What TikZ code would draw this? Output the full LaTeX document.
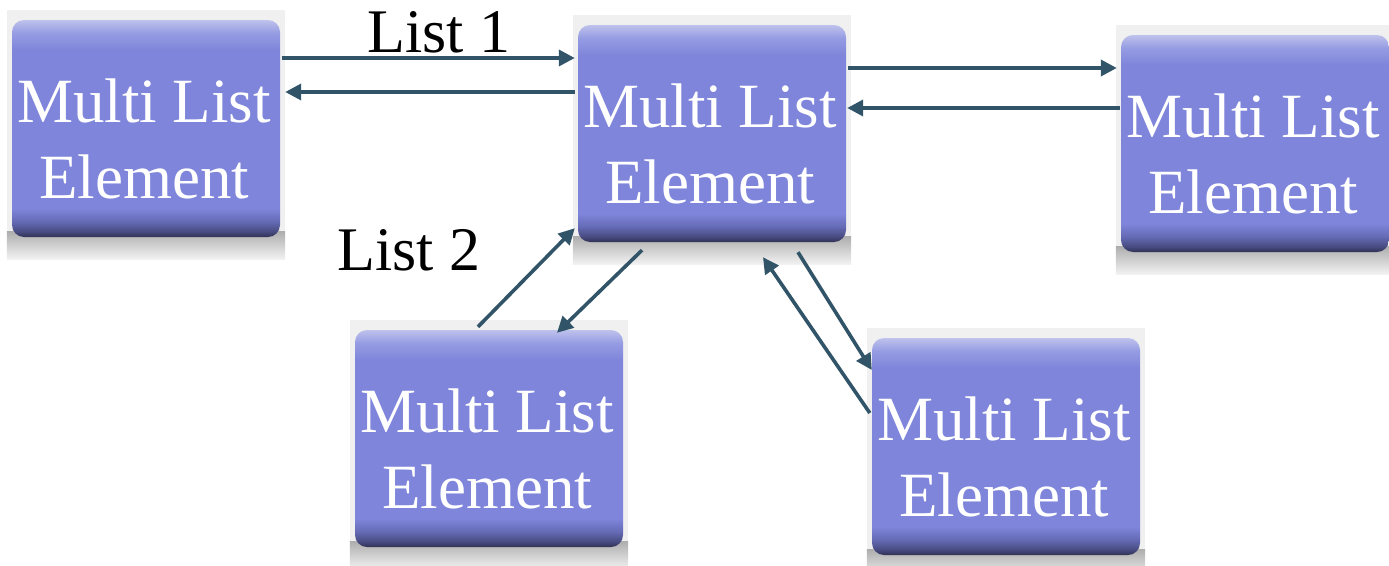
\documentclass[tikz,border=0pt]{standalone}
\usepackage{fontspec}
\setmainfont{Liberation Serif}
\usetikzlibrary{arrows.meta,backgrounds,calc}

\definecolor{boxmain}{RGB}{126,133,218}
\definecolor{boxtop}{RGB}{190,194,236}
\definecolor{boxlight}{RGB}{150,156,226}
\definecolor{boxdark}{RGB}{48,50,84}
\definecolor{boxmid}{RGB}{72,76,130}
\definecolor{boxdeep}{RGB}{100,106,180}
\definecolor{linkcol}{RGB}{50,84,104}

% vertical gradient of an element box (0bp = bottom)
\pgfdeclareverticalshading{mlbox}{100bp}{%
  color(0bp)=(boxdark); color(25bp)=(boxdark); color(26.3bp)=(boxmid);
  color(28.5bp)=(boxdeep); color(31.5bp)=(boxmain); color(68bp)=(boxmain);
  color(72bp)=(boxlight); color(75bp)=(boxtop); color(100bp)=(boxtop)}

% soft grey shadow below each box
\pgfdeclareverticalshading{mlshadow}{100bp}{%
  color(0bp)=(black!5); color(25bp)=(black!5); color(75bp)=(black!32);
  color(100bp)=(black!32)}

\tikzset{
  elem/.style={rectangle, rounded corners=12pt, minimum width=268pt,
    minimum height=217pt, inner sep=0pt, shading=mlbox},
  elemtext/.style={text=white, align=center, inner sep=0pt,
    font=\fontsize{63}{76}\selectfont},
  listlabel/.style={text=black, inner sep=0pt, anchor=base,
    font=\fontsize{62}{76}\selectfont},
  link/.style={draw=linkcol, line width=3.6pt,
    -{Triangle[length=16pt,width=16pt]}},
  halo/.style={fill=black!6},
}

\begin{document}
\begin{tikzpicture}[x=1pt,y=1pt]
\useasboundingbox (0,0) rectangle (1389,-565);

% element boxes
\node[elem] (A) at (146,-128.5) {};
\node[elem] (B) at (712,-133.5) {};
\node[elem] (C) at (1255,-143.5) {};
\node[elem] (D) at (489,-438.5) {};
\node[elem] (E) at (1006,-446.5) {};

% grey surround and shadow behind the boxes
\begin{scope}[on background layer]
  \foreach \n in {A,B,C,D,E} {
    \fill[halo] ([shift={(-5,10)}]\n.north west) rectangle ([shift={(5,-22)}]\n.south east);
    \shade[shading=mlshadow] ([shift={(-5,6)}]\n.south west) rectangle ([shift={(5,-22)}]\n.south east);
  }
\end{scope}

% box captions
\foreach \n in {A,B,C,D,E}
  \node[elemtext] (\n t) at ([shift={(-2,-10)}]\n.center) {Multi List\\Element};

% list labels
\node[listlabel] (l1) at (439,-52) {List 1};
\node[listlabel] (l2) at (409,-270) {List 2};

% List 1 links
\draw[link] ([shift={(2,70.5)}]A.east) -- ([shift={(-3,75.5)}]B.west);
\draw[link] ([shift={(-3,41.5)}]B.west) -- ([shift={(5,36.5)}]A.east);
\draw[link] ([shift={(2,65.5)}]B.east) -- ([shift={(-4,75.5)}]C.west);
\draw[link] ([shift={(-1,35.5)}]C.west) -- ([shift={(1,25.5)}]B.east);

% List 2 links
\draw[link] ([shift={(-11,3)}]D.north) -- ([shift={(-3,14)}]B.south west);
\draw[link] ([shift={(-70,-8)}]B.south) -- ([shift={(68,-3)}]D.north);
\draw[link] ([shift={(-2,33.5)}]E.west) -- ([shift={(51,-15)}]B.south);
\draw[link] ([shift={(86,-10)}]B.south) -- ([shift={(0,76.5)}]E.west);
\end{tikzpicture}
\end{document}
